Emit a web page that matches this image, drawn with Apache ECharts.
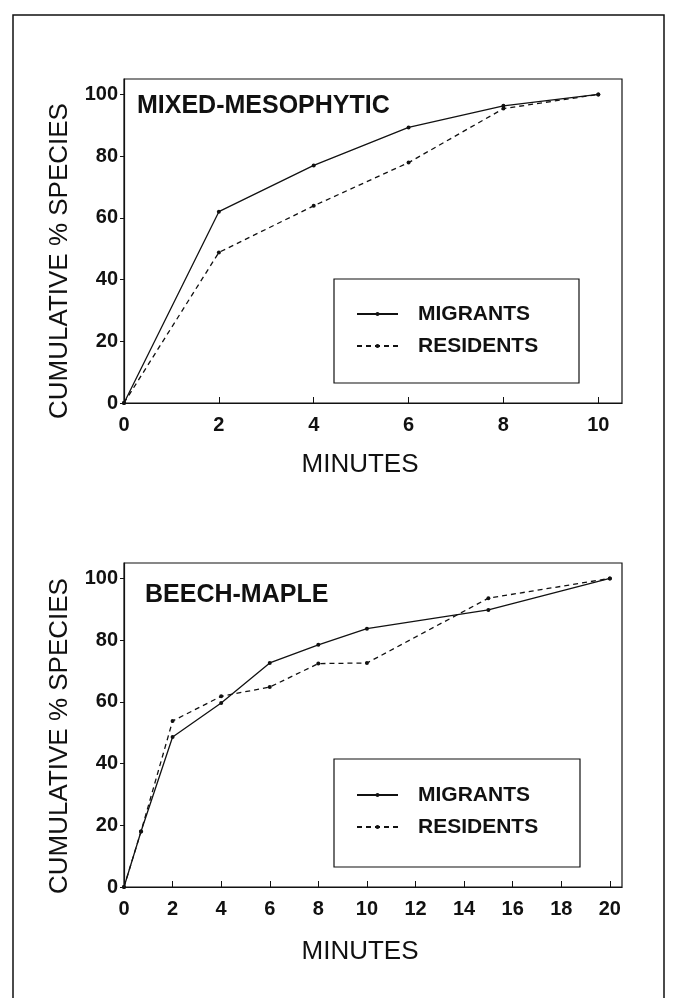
<!DOCTYPE html>
<html><head><meta charset="utf-8">
<script src="https://cdn.jsdelivr.net/npm/echarts@6/dist/echarts.min.js"></script>
<style>html,body{margin:0;padding:0;background:#fff}#c{width:675px;height:998px}</style>
</head><body><div id="c"></div>
<script>
// ---- data ----
const topMinutes = [0, 2, 4, 6, 8, 10];
const topMigrants = [0, 62, 77, 89.3, 96.3, 100];
const topResidents = [0, 48.8, 63.9, 77.9, 95.4, 100];
const bottomMinutes = [0, 0.7, 2, 4, 6, 8, 10, 15, 20];
const bottomMigrants = [0, 18, 48.6, 59.6, 72.6, 78.5, 83.7, 89.8, 100];
const bottomResidents = [0, 18, 53.8, 61.8, 64.8, 72.4, 72.6, 93.6, 100];
const topXTicks = [0, 2, 4, 6, 8, 10];
const bottomXTicks = [0, 2, 4, 6, 8, 10, 12, 14, 16, 18, 20];
const yTicks = [0, 20, 40, 60, 80, 100];
const seriesNames = ['MIGRANTS', 'RESIDENTS'];
const panelTitles = ['MIXED-MESOPHYTIC', 'BEECH-MAPLE'];
const xAxisName = 'MINUTES';
const yAxisName = 'CUMULATIVE % SPECIES';

// ---- styling ----
const INK = '#111';
const FONT = '"Liberation Sans", Arial, Helvetica, sans-serif';
const pair = (xs, ys) => xs.map((x, i) => [x, ys[i]]);

function xAxisFor(gi, max, ticks) {
  return {
    type: 'value', gridIndex: gi, min: 0, max: max,
    axisLine: { show: true, lineStyle: { color: INK, width: 1.2 } },
    axisTick: { show: true, inside: true, length: 6, lineStyle: { color: INK, width: 1 }, customValues: ticks },
    axisLabel: { show: true, customValues: ticks, color: INK, fontFamily: FONT, fontSize: 20, fontWeight: 'bold', margin: 12 },
    splitLine: { show: false }
  };
}
function yAxisFor(gi) {
  return {
    type: 'value', gridIndex: gi, min: 0, max: 105,
    axisLine: { show: true, lineStyle: { color: INK, width: 1.2 } },
    axisTick: { show: true, inside: false, length: 4, lineStyle: { color: INK, width: 1 }, customValues: yTicks },
    axisLabel: { show: true, customValues: yTicks, color: INK, fontFamily: FONT, fontSize: 20, fontWeight: 'bold', margin: 6 },
    splitLine: { show: false }
  };
}
function lineSeries(name, gi, data, dashed) {
  return {
    name: name, type: 'line', xAxisIndex: gi, yAxisIndex: gi, data: data,
    symbol: 'circle', symbolSize: 4, showSymbol: true,
    itemStyle: { color: INK },
    lineStyle: { color: INK, width: 1.3, type: dashed ? [5, 4] : 'solid' },
    emphasis: { disabled: true }
  };
}
function legendFor(top) {
  return {
    data: seriesNames, orient: 'vertical', left: 356, top: top,
    itemWidth: 41, itemHeight: 5, itemGap: 10, padding: 0,
    selectedMode: false,
    textStyle: { color: INK, fontFamily: FONT, fontSize: 21, fontWeight: 'bold', lineHeight: 22, padding: [0, 0, 0, 15] }
  };
}
function txt(text, x, y, size, weight, align, rot) {
  return {
    type: 'text', x: x, y: y, rotation: rot || 0, silent: true,
    style: { text: text, font: weight + ' ' + size + 'px ' + FONT, fill: INK,
             textAlign: align, textVerticalAlign: 'middle', textBaseline: 'middle' }
  };
}

const chart = echarts.init(document.getElementById('c'), null, { renderer: 'canvas' });
chart.setOption({
  animation: false,
  backgroundColor: '#fff',
  grid: [
    { left: 124, top: 79, width: 498, height: 324, show: true, borderColor: INK, borderWidth: 1.2, backgroundColor: 'transparent' },
    { left: 124, top: 563, width: 498, height: 324, show: true, borderColor: INK, borderWidth: 1.2, backgroundColor: 'transparent' }
  ],
  xAxis: [xAxisFor(0, 10.5, topXTicks), xAxisFor(1, 20.5, bottomXTicks)],
  yAxis: [yAxisFor(0), yAxisFor(1)],
  legend: [legendFor(303), legendFor(784)],
  series: [
    lineSeries(seriesNames[0], 0, pair(topMinutes, topMigrants), false),
    lineSeries(seriesNames[1], 0, pair(topMinutes, topResidents), true),
    lineSeries(seriesNames[0], 1, pair(bottomMinutes, bottomMigrants), false),
    lineSeries(seriesNames[1], 1, pair(bottomMinutes, bottomResidents), true)
  ],
  graphic: [
    { type: 'rect', silent: true, shape: { x: 13, y: 15, width: 651, height: 1010 }, style: { fill: 'none', stroke: INK, lineWidth: 1.5 } },
    { type: 'rect', silent: true, shape: { x: 334, y: 279, width: 245, height: 104 }, style: { fill: 'none', stroke: INK, lineWidth: 1.2 } },
    { type: 'rect', silent: true, shape: { x: 334, y: 759, width: 246, height: 108 }, style: { fill: 'none', stroke: INK, lineWidth: 1.2 } },
    txt(panelTitles[0], 137, 106, 25, 'bold', 'left'),
    txt(panelTitles[1], 145, 595, 25, 'bold', 'left'),
    txt(yAxisName, 60, 261, 26, 'normal', 'center', Math.PI / 2),
    txt(yAxisName, 60, 736, 26, 'normal', 'center', Math.PI / 2),
    txt(xAxisName, 360, 465, 26, 'normal', 'center'),
    txt(xAxisName, 360, 952, 26, 'normal', 'center')
  ]
});
</script>
</body></html>
